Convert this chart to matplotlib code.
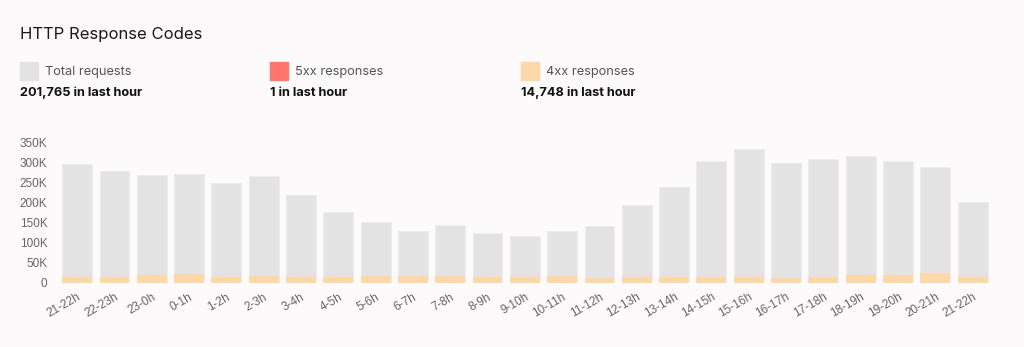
import matplotlib.pyplot as plt
import numpy as np

hours = [
    "21-22h", "22-23h", "23-0h", "0-1h", "1-2h", "2-3h", "3-4h", "4-5h",
    "5-6h", "6-7h", "7-8h", "8-9h", "9-10h", "10-11h", "11-12h", "12-13h",
    "13-14h", "14-15h", "15-16h", "16-17h", "17-18h", "18-19h", "19-20h",
    "20-21h", "21-22h",
]
total_requests = [
    296000, 279000, 270000, 271500, 250000, 266000, 220000, 177000,
    151000, 128000, 144000, 124000, 116000, 130000, 141000, 195000,
    240000, 303000, 333000, 299000, 309000, 317000, 304000, 288000,
    201765,
]
resp_4xx = [
    14700, 15500, 20400, 21000, 14700, 18000, 14700, 14700,
    18000, 17000, 18000, 14700, 14700, 16000, 13000, 14700,
    14700, 14700, 14700, 11400, 14700, 20000, 19000, 24000,
    14748,
]
resp_5xx = [
    3, 2, 4, 1, 2, 5, 1, 0, 2, 1, 3, 0, 1, 2, 0, 1,
    2, 4, 3, 1, 2, 6, 2, 3, 1,
]
y_ticks = [0, 50000, 100000, 150000, 200000, 250000, 300000, 350000]
y_tick_labels = ["0", "50K", "100K", "150K", "200K", "250K", "300K", "350K"]

BG = "#fcfafb"
GREY = "#e3e3e3"
RED = "#ff766d"
ORANGE = "#ffd8a8"

fig = plt.figure(figsize=(10.24, 3.47), dpi=100, facecolor=BG)
ax = fig.add_axes([0.0571, 0.1853, 0.9109, 0.4035], facecolor=BG)

x = np.arange(len(hours))
ax.bar(x, total_requests, 0.8, color=GREY, edgecolor="#ededed", linewidth=0.8)
ax.bar(x, resp_4xx, 0.8, color=ORANGE, linewidth=0)
# 5xx counts are tiny, keep them from snapping to a visible pixel line
ax.bar(x, resp_5xx, 0.8, bottom=resp_4xx, color=RED, linewidth=0,
       snap=False, antialiased=True)

ax.set_xlim(-0.5, len(hours) - 0.5)
ax.set_ylim(0, 350000)
ax.set_yticks(y_ticks)
ax.set_yticklabels(y_tick_labels, fontsize=8.5, color="#666666", family="Liberation Sans")
ax.set_xticks(x)
ax.set_xticklabels(hours, rotation=30, ha="right", rotation_mode="anchor",
                   fontsize=8.5, color="#666666", family="Liberation Sans")
ax.tick_params(axis="both", length=0)
ax.tick_params(axis="y", pad=8)
ax.tick_params(axis="x", pad=6)
for s in ax.spines.values():
    s.set_visible(False)

W, H = 1024, 347


def fx(px):
    return px / W


def fy(py):
    return 1 - py / H


fig.text(fx(20), fy(35), "HTTP Response Codes", fontsize=12, family="Inter",
         color="#1a1a1a", va="center")

legend = [
    (20, GREY, "Total requests", f"{total_requests[-1]:,} in last hour"),
    (270, RED, "5xx responses", f"{resp_5xx[-1]:,} in last hour"),
    (521, ORANGE, "4xx responses", f"{resp_4xx[-1]:,} in last hour"),
]
for px, color, label, value in legend:
    fig.patches.append(plt.Rectangle((fx(px), fy(80)), fx(18), 18 / H,
                                     transform=fig.transFigure, color=color))
    fig.text(fx(px + 25), fy(71.5), label, fontsize=9.2, family="Inter",
             color="#555555", va="center")
    fig.text(fx(px), fy(92.5), value, fontsize=9.2, family="Inter",
             weight="bold", color="#111111", va="center")

fig.savefig("out.png", dpi=100, facecolor=BG)
